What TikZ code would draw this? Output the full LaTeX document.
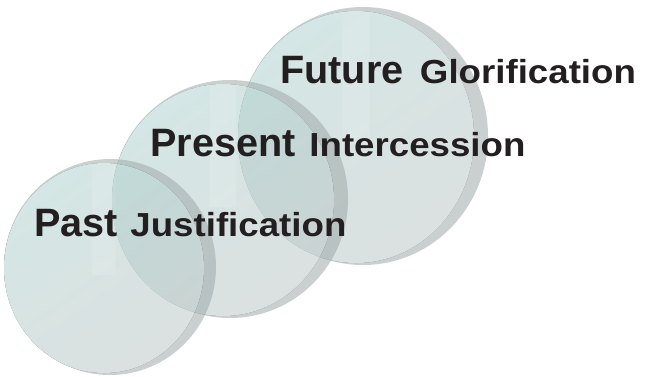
\documentclass[tikz,border=0pt]{standalone}
\usepackage{fontspec}
\setmainfont{Liberation Sans}
\newfontfamily\wideface{Liberation Sans}[FakeStretch=1.1]
\usetikzlibrary{positioning}
\definecolor{ink}{RGB}{35,31,32}
\definecolor{rimgray}{RGB}{158,170,170}
\definecolor{faceteal}{RGB}{176,210,207}
\definecolor{facegray}{RGB}{190,199,199}
\tikzset{
  rim/.style={fill=rimgray},
  face/.style={top color=faceteal, bottom color=facegray, shading angle=35},
  glint/.style={fill=white, opacity=0.12},
  bigword/.style={font=\fontsize{29.7}{32}\selectfont\bfseries, text=ink, inner sep=0pt},
  smallword/.style={font=\wideface\fontsize{25}{28}\selectfont\bfseries, text=ink, inner sep=0pt}
}
% one glass disc: centre x, centre y, x radius, y radius, rim width
\newcommand{\lensdisc}[5]{%
  \begin{scope}[transparency group, opacity=0.55]
    \fill[rim] (#1,#2) ellipse [x radius=#3, y radius=#4];
    \fill[face] (#1-#5,#2+1) ellipse [x radius=#3-#5, y radius=#4-3];
    \begin{scope}
      \clip (#1-#5,#2+1) ellipse [x radius=#3-#5, y radius=#4-3];
      \fill[glint] (#1-0.17*#3,#2-#4) rectangle (#1+0.05*#3,#2+8);
    \end{scope}
  \end{scope}}

\begin{document}
\begin{tikzpicture}[x=0.75pt, y=-0.75pt]
\useasboundingbox (0,0) rectangle (648,376);

% discs, back to front
\lensdisc{363}{136}{125}{129}{7}
\lensdisc{230}{199}{118}{119}{7}
\lensdisc{110}{267}{106}{108}{6}

% labels
\node[bigword, anchor=base west] (future) at (280,83) {Future};
\node[smallword, base right=12pt of future] (glory) {Glorification};
\node[bigword, anchor=base west] (present) at (150,156) {Present};
\node[smallword, base right=10pt of present] (interc) {Intercession};
\node[bigword, anchor=base west] (past) at (34,236) {Past};
\node[smallword, base right=9pt of past] (justif) {Justification};
\end{tikzpicture}
\end{document}
